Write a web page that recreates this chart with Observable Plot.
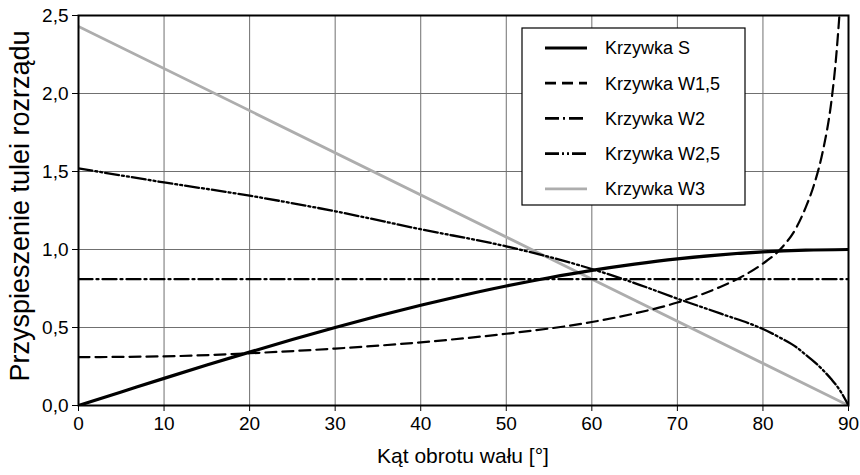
<!DOCTYPE html>
<html>
<head>
<meta charset="utf-8">
<script src="https://cdn.jsdelivr.net/npm/d3@7"></script>
<script src="https://cdn.jsdelivr.net/npm/@observablehq/plot@0.6"></script>
<style>
  body { margin: 0; background: #fff; }
  #chart svg { display: block; }
</style>
</head>
<body>
<div id="chart"></div>
<script>
// Shaft angle [deg] and sleeve acceleration for each valve-timing curve
const anglesS   = [0, 5, 10, 15, 20, 25, 30, 35, 40, 45, 50, 55, 60, 65, 70, 75, 80, 85, 90];
const valuesS   = [0, 0.087, 0.174, 0.259, 0.342, 0.423, 0.5, 0.574, 0.643, 0.707, 0.766, 0.819, 0.866, 0.906, 0.94, 0.966, 0.985, 0.996, 1.0];

const anglesW15 = [0, 10, 20, 30, 40, 50, 60, 65, 70, 75, 78, 80, 82, 84, 85, 86, 87, 88, 88.5, 89, 89.3];
const valuesW15 = [0.31, 0.315, 0.335, 0.365, 0.405, 0.46, 0.535, 0.59, 0.66, 0.76, 0.84, 0.91, 1.0, 1.15, 1.27, 1.42, 1.63, 1.95, 2.2, 2.55, 2.8];

const anglesW2  = [0, 90];
const valuesW2  = [0.81, 0.81];

const anglesW25 = [0, 10, 20, 30, 40, 50, 60, 65, 70, 75, 80, 82, 84, 85, 86, 87, 88, 89, 90];
const valuesW25 = [1.52, 1.43, 1.345, 1.245, 1.13, 1.02, 0.875, 0.785, 0.685, 0.59, 0.49, 0.435, 0.37, 0.325, 0.28, 0.228, 0.168, 0.097, 0];

const anglesW3  = [0, 90];
const valuesW3  = [2.43, 0];

const xTicks = [0, 10, 20, 30, 40, 50, 60, 70, 80, 90];
const yTicks = [0, 0.5, 1.0, 1.5, 2.0, 2.5];

const seriesNames = ["Krzywka S", "Krzywka W1,5", "Krzywka W2", "Krzywka W2,5", "Krzywka W3"];
const yTitle = "Przyspieszenie tulei rozrządu";
const xTitle = "Kąt obrotu wału [°]";

const toRows = (xs, ys) => xs.map((x, i) => ({x, y: ys[i]}));
const rowsS   = toRows(anglesS, valuesS);
const rowsW15 = toRows(anglesW15, valuesW15);
const rowsW2  = toRows(anglesW2, valuesW2);
const rowsW25 = toRows(anglesW25, valuesW25);
const rowsW3  = toRows(anglesW3, valuesW3);

// line styles per series (same order as seriesNames)
const styles = [
  {stroke: "#000", strokeWidth: 3.2, dash: null},
  {stroke: "#000", strokeWidth: 2.2, dash: "11,6"},
  {stroke: "#000", strokeWidth: 2.3, dash: "14,4,2,4"},
  {stroke: "#000", strokeWidth: 2.3, dash: "14,3,2,3,2,3"},
  {stroke: "#adadad", strokeWidth: 2.8, dash: null}
];

const comma = d => d.toFixed(1).replace(".", ",");
const font = "'Liberation Sans', Arial, Helvetica, sans-serif";

const lineOpts = (s) => ({
  x: "x", y: "y",
  stroke: s.stroke, strokeWidth: s.strokeWidth,
  strokeDasharray: s.dash || undefined,
  curve: "monotone-x", clip: true
});

const W = 860, H = 475, mL = 78, mR = 12, mT = 15, mB = 70;

const chart = Plot.plot({
  width: W,
  height: H,
  marginLeft: mL,
  marginRight: mR,
  marginTop: mT,
  marginBottom: mB,
  style: {fontFamily: font, fontSize: "19px", color: "#000", background: "#fff"},
  x: {domain: [0, 90]},
  y: {domain: [0, 2.5]},
  marks: [
    Plot.gridX(xTicks, {stroke: "#707070", strokeOpacity: 1, strokeWidth: 1}),
    Plot.gridY(yTicks, {stroke: "#707070", strokeOpacity: 1, strokeWidth: 1}),
    Plot.axisX(xTicks, {tickSize: 6, tickPadding: 5, fontSize: 19, label: null, tickFormat: d => String(d)}),
    Plot.axisY(yTicks, {tickSize: 6, tickPadding: 4, fontSize: 19, label: null, tickFormat: comma}),
    Plot.line(rowsW3, lineOpts(styles[4])),
    Plot.line(rowsW2, lineOpts(styles[2])),
    Plot.line(rowsW25, lineOpts(styles[3])),
    Plot.line(rowsW15, lineOpts(styles[1])),
    Plot.line(rowsS, lineOpts(styles[0])),
    Plot.frame({stroke: "#000", strokeWidth: 2})
  ]
});

document.getElementById("chart").appendChild(chart);

const svg = d3.select(chart);

// axis titles
const midY = (mT + H - mB) / 2;
const midX = (mL + W - mR) / 2;
svg.append("text")
  .attr("transform", `translate(20,${midY - 4}) rotate(-90)`)
  .attr("text-anchor", "middle").attr("dy", "0.35em")
  .attr("font-family", font).attr("font-size", 27).attr("fill", "#000")
  .text(yTitle);
svg.append("text")
  .attr("x", midX).attr("y", 456)
  .attr("text-anchor", "middle").attr("dy", "0.35em")
  .attr("font-family", font).attr("font-size", 21).attr("fill", "#000")
  .text(xTitle);

// legend box in the upper right of the plot area
const lg = svg.append("g").attr("transform", "translate(522,28)");
lg.append("rect")
  .attr("width", 223).attr("height", 177)
  .attr("fill", "#fff").attr("stroke", "#000").attr("stroke-width", 1.2);
seriesNames.forEach((name, i) => {
  const cy = 20 + i * 35.2;
  const s = styles[i];
  lg.append("line")
    .attr("x1", 23).attr("x2", 65).attr("y1", cy).attr("y2", cy)
    .attr("stroke", s.stroke)
    .attr("stroke-width", i === 0 ? 3.2 : 2.8)
    .attr("stroke-dasharray", s.dash);
  lg.append("text")
    .attr("x", 83).attr("y", cy).attr("dy", "0.35em")
    .attr("text-anchor", "start")
    .attr("font-family", font).attr("font-size", 18).attr("fill", "#000")
    .text(name);
});
</script>
</body>
</html>
